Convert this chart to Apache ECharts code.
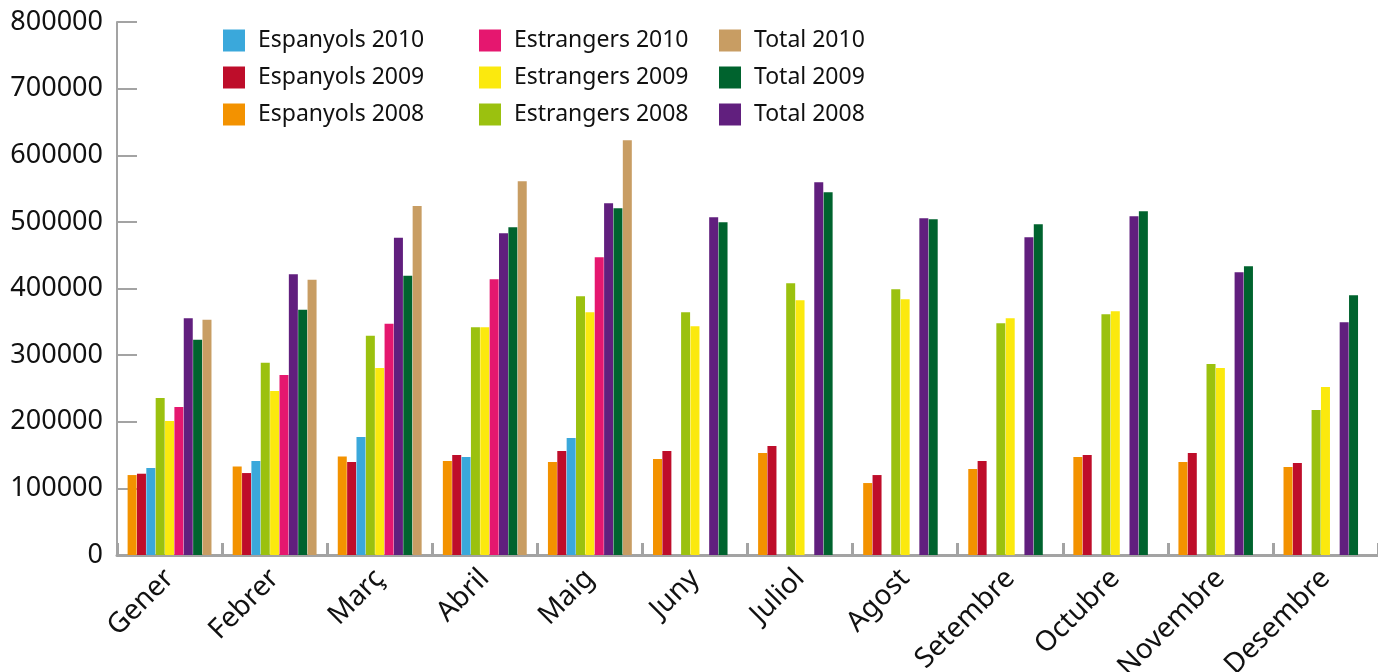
<!DOCTYPE html>
<html>
<head>
<meta charset="utf-8">
<script src="https://cdn.jsdelivr.net/npm/echarts@6/dist/echarts.min.js"></script>
<style>
  html, body { margin: 0; padding: 0; background: #fff; }
  #chart { width: 1378px; height: 672px; }
</style>
</head>
<body>
<div id="chart"></div>
<script>
// mesos
const months = ['Gener', 'Febrer', 'Març', 'Abril', 'Maig', 'Juny', 'Juliol', 'Agost', 'Setembre', 'Octubre', 'Novembre', 'Desembre']
const yTicks = [0, 100000, 200000, 300000, 400000, 500000, 600000, 700000, 800000]

// valors llegits del gràfic (null = sense dada)
const espanyols2008 = [120000, 133000, 148000, 141000, 139500, 144000, 153000, 108000, 129000, 147000, 139500, 132000]
const espanyols2009 = [122000, 123000, 139500, 150000, 156000, 156000, 163500, 120000, 141000, 150000, 153000, 138000]
const espanyols2010 = [130500, 141000, 177000, 147000, 175500, null, null, null, null, null, null, null]
const estrangers2008 = [235500, 288500, 329000, 342000, 388500, 364500, 408000, 399000, 348000, 361500, 286500, 217500]
const estrangers2009 = [201000, 246000, 280500, 342000, 364500, 343500, 382500, 384000, 355500, 366000, 280500, 252000]
const estrangers2010 = [222000, 270000, 347000, 414000, 447000, null, null, null, null, null, null, null]
const total2008 = [355500, 421500, 476000, 483000, 528000, 507000, 559500, 505500, 477000, 508500, 424500, 349500]
const total2009 = [323000, 368000, 419000, 492000, 520500, 499500, 544500, 504000, 496500, 516000, 433500, 390000]
const total2010 = [353000, 413000, 524000, 561000, 622500, null, null, null, null, null, null, null]

const chart = echarts.init(document.getElementById('chart'))

const seriesList = [
  { name: 'Espanyols 2008', data: espanyols2008, color: '#F39200' },
  { name: 'Espanyols 2009', data: espanyols2009, color: '#BE0D2A' },
  { name: 'Espanyols 2010', data: espanyols2010, color: '#3AA8DB' },
  { name: 'Estrangers 2008', data: estrangers2008, color: '#9BC10F' },
  { name: 'Estrangers 2009', data: estrangers2009, color: '#FBE90E' },
  { name: 'Estrangers 2010', data: estrangers2010, color: '#E5176F' },
  { name: 'Total 2008', data: total2008, color: '#611F7E' },
  { name: 'Total 2009', data: total2009, color: '#00632E' },
  { name: 'Total 2010', data: total2010, color: '#C89D63' }
]

const font = '"Noto Sans", "Open Sans", sans-serif'
const axisGray = '#A3A3A3'

function legendCol(left, names) {
  return {
    orient: 'vertical',
    left: left,
    top: 24,
    itemWidth: 22,
    itemHeight: 22,
    itemGap: 14,
    icon: 'rect',
    selectedMode: false,
    data: names,
    textStyle: { fontFamily: font, fontSize: 23, color: '#111', padding: [0, 0, 0, 8] }
  }
}

chart.setOption({
  animation: false,
  color: seriesList.map(s => s.color),
  grid: { left: 117, right: 0, top: 22, bottom: 117, containLabel: false, outerBoundsMode: 'none' },
  legend: [
    legendCol(218, ['Espanyols 2010', 'Espanyols 2009', 'Espanyols 2008']),
    legendCol(474, ['Estrangers 2010', 'Estrangers 2009', 'Estrangers 2008']),
    legendCol(714, ['Total 2010', 'Total 2009', 'Total 2008'])
  ],
  xAxis: {
    type: 'category',
    data: months,
    axisLine: { show: true, lineStyle: { color: axisGray, width: 3 } },
    axisTick: { show: true, inside: true, length: 12, lineStyle: { color: axisGray, width: 3 } },
    axisLabel: {
      rotate: 45,
      margin: 19,
      interval: 0,
      fontFamily: font,
      fontSize: 28,
      color: '#111'
    }
  },
  yAxis: {
    type: 'value',
    min: yTicks[0],
    max: yTicks[yTicks.length - 1],
    interval: 100000,
    splitLine: { show: false },
    axisLine: { show: true, lineStyle: { color: axisGray, width: 2 } },
    axisTick: { show: true, inside: true, length: 20, lineStyle: { color: axisGray, width: 2 } },
    axisLabel: {
      margin: 14,
      fontFamily: font,
      fontSize: 27,
      color: '#111',
      formatter: v => String(v)
    }
  },
  series: seriesList.map(s => ({
    name: s.name,
    type: 'bar',
    data: s.data,
    barWidth: 9,
    barGap: '4%',
    itemStyle: { color: s.color }
  }))
})
</script>
</body>
</html>
